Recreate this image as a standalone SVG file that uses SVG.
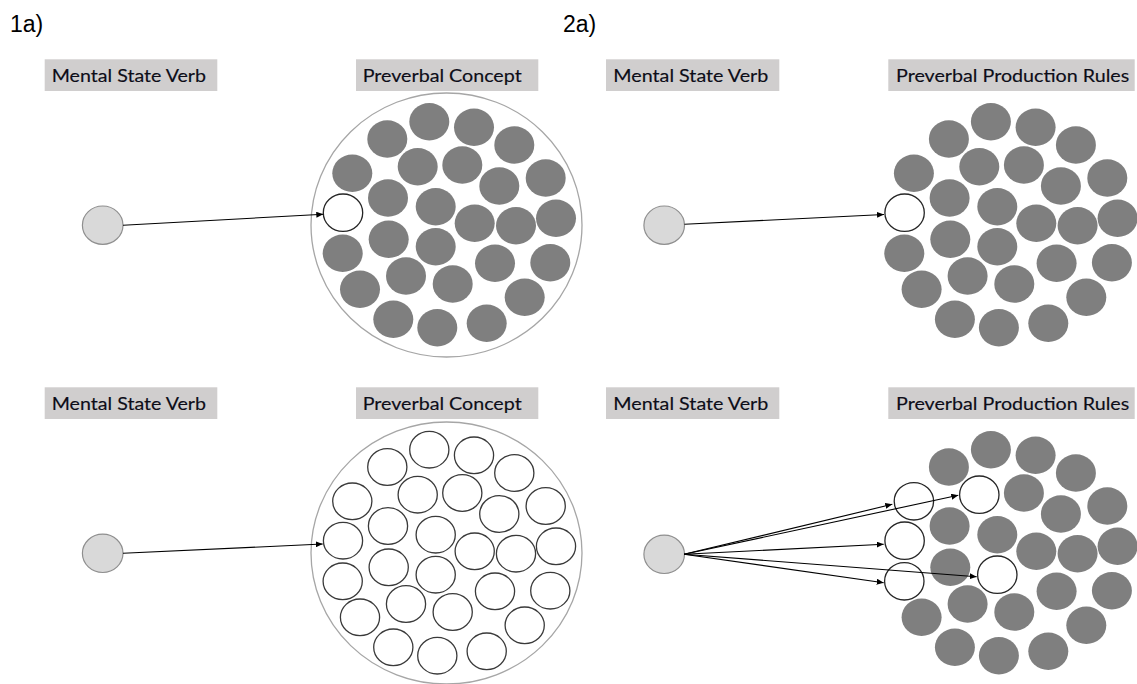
<svg xmlns="http://www.w3.org/2000/svg" xmlns:xlink="http://www.w3.org/1999/xlink" width="1137" height="684" viewBox="0 0 1137 684">
  <style>
    .panel-tag { font-family: "Liberation Sans", Arial, sans-serif; font-size: 23px; fill: #000; }
    .lbl-box { fill: #d0cece; }
    .lbl { font-family: Lato, "Open Sans", sans-serif; font-size: 17.5px; fill: #0d0d18; stroke: #0d0d18; stroke-width: 0.15; }
    .src { fill: #d9d9d9; stroke: #8f8f8f; stroke-width: 1.2; }
    .hull { fill: none; stroke: #a6a6a6; stroke-width: 1.3; }
    .off { fill: #7f7f7f; }
    .on { fill: #fff; stroke: #262626; stroke-width: 1.3; }
    .open { fill: #fff; stroke: #3a3a3a; stroke-width: 1.3; }
    .edge { stroke: #000; stroke-width: 1.1; fill: none; marker-end: url(#tip); }
  </style>
  <defs>
    <marker id="tip" markerUnits="userSpaceOnUse" markerWidth="8" markerHeight="6" refX="7" refY="3" orient="auto">
      <path d="M0,0 L7,3 L0,6 Z" fill="#000"/>
    </marker>
  </defs>

  <rect width="1137" height="684" fill="#fff"/>

  <text class="panel-tag" x="10" y="32">1a)</text>
  <text class="panel-tag" x="563" y="32">2a)</text>

  <!-- ===== Row 1, left: concept cluster ===== -->
  <g id="lbl-msv-1">
    <rect class="lbl-box" x="44.7" y="59.3" width="172.6" height="31.7"/>
    <text class="lbl" x="51.7" y="82.3" textLength="154.3" lengthAdjust="spacingAndGlyphs">Mental State Verb</text>
  </g>
  <g id="lbl-pc-1">
    <rect class="lbl-box" x="356" y="59.3" width="182.3" height="31.7"/>
    <text class="lbl" x="362.7" y="82.3" textLength="159" lengthAdjust="spacingAndGlyphs">Preverbal Concept</text>
  </g>
  <g id="verb-1"><ellipse class="src" cx="102.7" cy="225.2" rx="20.3" ry="19.2"/></g>
  <g id="concept-1">
    <ellipse class="hull" cx="446.5" cy="225" rx="135.5" ry="132"/>
    <g class="off">
      <ellipse cx="429.3" cy="121.7" rx="20" ry="18.7"/>
      <ellipse cx="474" cy="127.3" rx="20" ry="18.7"/>
      <ellipse cx="514.3" cy="145" rx="20" ry="18.7"/>
      <ellipse cx="387.3" cy="139" rx="20" ry="18.7"/>
      <ellipse cx="417.7" cy="166.7" rx="20" ry="18.7"/>
      <ellipse cx="462.3" cy="165" rx="20" ry="18.7"/>
      <ellipse cx="352.3" cy="173.3" rx="20" ry="18.7"/>
      <ellipse cx="499.3" cy="186" rx="20" ry="18.7"/>
      <ellipse cx="545.7" cy="178" rx="20" ry="18.7"/>
      <ellipse cx="388" cy="198" rx="20" ry="18.7"/>
      <ellipse cx="435.7" cy="206.7" rx="20" ry="18.7"/>
      <ellipse cx="474.7" cy="223.3" rx="20" ry="18.7"/>
      <ellipse cx="516" cy="225.7" rx="20" ry="18.7"/>
      <ellipse cx="556" cy="218.3" rx="20" ry="18.7"/>
      <ellipse cx="388.7" cy="239.3" rx="20" ry="18.7"/>
      <ellipse cx="435.7" cy="246.7" rx="20" ry="18.7"/>
      <ellipse cx="342.7" cy="253.3" rx="20" ry="18.7"/>
      <ellipse cx="495" cy="263.3" rx="20" ry="18.7"/>
      <ellipse cx="550.3" cy="262.7" rx="20" ry="18.7"/>
      <ellipse cx="406" cy="276" rx="20" ry="18.7"/>
      <ellipse cx="452.7" cy="284" rx="20" ry="18.7"/>
      <ellipse cx="360" cy="289.3" rx="20" ry="18.7"/>
      <ellipse cx="524.7" cy="297.3" rx="20" ry="18.7"/>
      <ellipse cx="393.3" cy="319.3" rx="20" ry="18.7"/>
      <ellipse cx="437.3" cy="327.7" rx="20" ry="18.7"/>
      <ellipse cx="486.7" cy="323.3" rx="20" ry="18.7"/>
    </g>
    <ellipse id="concept-1-active" class="on" cx="343" cy="212.7" rx="19.7" ry="18.7"/>
  </g>

  <!-- ===== Row 1, right: production rules ===== -->
  <g id="lbl-msv-2">
    <rect class="lbl-box" x="606" y="59.3" width="173.3" height="31.7"/>
    <text class="lbl" x="613.3" y="82.3" textLength="155" lengthAdjust="spacingAndGlyphs">Mental State Verb</text>
  </g>
  <g id="lbl-ppr-2">
    <rect class="lbl-box" x="888.3" y="59.3" width="246.4" height="31.7"/>
    <text class="lbl" x="896" y="82.3" textLength="233.3" lengthAdjust="spacingAndGlyphs">Preverbal Production Rules</text>
  </g>
  <g id="verb-2"><ellipse class="src" cx="664.2" cy="225.2" rx="20.3" ry="19.2"/></g>
  <g id="rules-2" transform="translate(561.6,0)">
    <g class="off">
      <ellipse cx="429.3" cy="121.7" rx="20" ry="18.7"/>
      <ellipse cx="474" cy="127.3" rx="20" ry="18.7"/>
      <ellipse cx="514.3" cy="145" rx="20" ry="18.7"/>
      <ellipse cx="387.3" cy="139" rx="20" ry="18.7"/>
      <ellipse cx="417.7" cy="166.7" rx="20" ry="18.7"/>
      <ellipse cx="462.3" cy="165" rx="20" ry="18.7"/>
      <ellipse cx="352.3" cy="173.3" rx="20" ry="18.7"/>
      <ellipse cx="499.3" cy="186" rx="20" ry="18.7"/>
      <ellipse cx="545.7" cy="178" rx="20" ry="18.7"/>
      <ellipse cx="388" cy="198" rx="20" ry="18.7"/>
      <ellipse cx="435.7" cy="206.7" rx="20" ry="18.7"/>
      <ellipse cx="474.7" cy="223.3" rx="20" ry="18.7"/>
      <ellipse cx="516" cy="225.7" rx="20" ry="18.7"/>
      <ellipse cx="556" cy="218.3" rx="20" ry="18.7"/>
      <ellipse cx="388.7" cy="239.3" rx="20" ry="18.7"/>
      <ellipse cx="435.7" cy="246.7" rx="20" ry="18.7"/>
      <ellipse cx="342.7" cy="253.3" rx="20" ry="18.7"/>
      <ellipse cx="495" cy="263.3" rx="20" ry="18.7"/>
      <ellipse cx="550.3" cy="262.7" rx="20" ry="18.7"/>
      <ellipse cx="406" cy="276" rx="20" ry="18.7"/>
      <ellipse cx="452.7" cy="284" rx="20" ry="18.7"/>
      <ellipse cx="360" cy="289.3" rx="20" ry="18.7"/>
      <ellipse cx="524.7" cy="297.3" rx="20" ry="18.7"/>
      <ellipse cx="393.3" cy="319.3" rx="20" ry="18.7"/>
      <ellipse cx="437.3" cy="327.7" rx="20" ry="18.7"/>
      <ellipse cx="486.7" cy="323.3" rx="20" ry="18.7"/>
    </g>
    <ellipse id="rules-2-active" class="on" cx="343" cy="212.7" rx="19.7" ry="18.7"/>
  </g>

  <!-- ===== Row 2, left: concept cluster, every unit open ===== -->
  <g id="lbl-msv-3">
    <rect class="lbl-box" x="44.7" y="387.3" width="172.6" height="31.7"/>
    <text class="lbl" x="51.7" y="410.3" textLength="154.3" lengthAdjust="spacingAndGlyphs">Mental State Verb</text>
  </g>
  <g id="lbl-pc-3">
    <rect class="lbl-box" x="356" y="387.3" width="182.3" height="31.7"/>
    <text class="lbl" x="362.7" y="410.3" textLength="159" lengthAdjust="spacingAndGlyphs">Preverbal Concept</text>
  </g>
  <g id="verb-3"><ellipse class="src" cx="102.7" cy="553.3" rx="20.3" ry="19.2"/></g>
  <g id="concept-3" transform="translate(0,328)">
    <ellipse class="hull" cx="446.5" cy="225" rx="135.5" ry="131"/>
    <g class="open">
      <ellipse cx="429.3" cy="121.7" rx="19.6" ry="18.3"/>
      <ellipse cx="474" cy="127.3" rx="19.6" ry="18.3"/>
      <ellipse cx="514.3" cy="145" rx="19.6" ry="18.3"/>
      <ellipse cx="387.3" cy="139" rx="19.6" ry="18.3"/>
      <ellipse cx="417.7" cy="166.7" rx="19.6" ry="18.3"/>
      <ellipse cx="462.3" cy="165" rx="19.6" ry="18.3"/>
      <ellipse cx="352.3" cy="173.3" rx="19.6" ry="18.3"/>
      <ellipse cx="499.3" cy="186" rx="19.6" ry="18.3"/>
      <ellipse cx="545.7" cy="178" rx="19.6" ry="18.3"/>
      <ellipse cx="388" cy="198" rx="19.6" ry="18.3"/>
      <ellipse cx="435.7" cy="206.7" rx="19.6" ry="18.3"/>
      <ellipse cx="343" cy="212.7" rx="19.6" ry="18.3"/>
      <ellipse cx="474.7" cy="223.3" rx="19.6" ry="18.3"/>
      <ellipse cx="516" cy="225.7" rx="19.6" ry="18.3"/>
      <ellipse cx="556" cy="218.3" rx="19.6" ry="18.3"/>
      <ellipse cx="388.7" cy="239.3" rx="19.6" ry="18.3"/>
      <ellipse cx="435.7" cy="246.7" rx="19.6" ry="18.3"/>
      <ellipse cx="342.7" cy="253.3" rx="19.6" ry="18.3"/>
      <ellipse cx="495" cy="263.3" rx="19.6" ry="18.3"/>
      <ellipse cx="550.3" cy="262.7" rx="19.6" ry="18.3"/>
      <ellipse cx="406" cy="276" rx="19.6" ry="18.3"/>
      <ellipse cx="452.7" cy="284" rx="19.6" ry="18.3"/>
      <ellipse cx="360" cy="289.3" rx="19.6" ry="18.3"/>
      <ellipse cx="524.7" cy="297.3" rx="19.6" ry="18.3"/>
      <ellipse cx="393.3" cy="319.3" rx="19.6" ry="18.3"/>
      <ellipse cx="437.3" cy="327.7" rx="19.6" ry="18.3"/>
      <ellipse cx="486.7" cy="323.3" rx="19.6" ry="18.3"/>
    </g>
  </g>

  <!-- ===== Row 2, right: production rules, several units active ===== -->
  <g id="lbl-msv-4">
    <rect class="lbl-box" x="606" y="387.3" width="173.3" height="31.7"/>
    <text class="lbl" x="613.3" y="410.3" textLength="155" lengthAdjust="spacingAndGlyphs">Mental State Verb</text>
  </g>
  <g id="lbl-ppr-4">
    <rect class="lbl-box" x="888.3" y="387.3" width="246.4" height="31.7"/>
    <text class="lbl" x="896" y="410.3" textLength="233.3" lengthAdjust="spacingAndGlyphs">Preverbal Production Rules</text>
  </g>
  <g id="verb-4"><ellipse class="src" cx="664.2" cy="554.3" rx="20.3" ry="19.2"/></g>
  <g id="rules-4" transform="translate(561.6,328)">
    <g class="off">
      <ellipse cx="429.3" cy="121.7" rx="20" ry="18.7"/>
      <ellipse cx="474" cy="127.3" rx="20" ry="18.7"/>
      <ellipse cx="514.3" cy="145" rx="20" ry="18.7"/>
      <ellipse cx="387.3" cy="139" rx="20" ry="18.7"/>
      <ellipse cx="462.3" cy="165" rx="20" ry="18.7"/>
      <ellipse cx="499.3" cy="186" rx="20" ry="18.7"/>
      <ellipse cx="545.7" cy="178" rx="20" ry="18.7"/>
      <ellipse cx="388" cy="198" rx="20" ry="18.7"/>
      <ellipse cx="435.7" cy="206.7" rx="20" ry="18.7"/>
      <ellipse cx="474.7" cy="223.3" rx="20" ry="18.7"/>
      <ellipse cx="516" cy="225.7" rx="20" ry="18.7"/>
      <ellipse cx="556" cy="218.3" rx="20" ry="18.7"/>
      <ellipse cx="388.7" cy="239.3" rx="20" ry="18.7"/>
      <ellipse cx="495" cy="263.3" rx="20" ry="18.7"/>
      <ellipse cx="550.3" cy="262.7" rx="20" ry="18.7"/>
      <ellipse cx="406" cy="276" rx="20" ry="18.7"/>
      <ellipse cx="452.7" cy="284" rx="20" ry="18.7"/>
      <ellipse cx="360" cy="289.3" rx="20" ry="18.7"/>
      <ellipse cx="524.7" cy="297.3" rx="20" ry="18.7"/>
      <ellipse cx="393.3" cy="319.3" rx="20" ry="18.7"/>
      <ellipse cx="437.3" cy="327.7" rx="20" ry="18.7"/>
      <ellipse cx="486.7" cy="323.3" rx="20" ry="18.7"/>
    </g>
    <g class="on">
      <ellipse id="rules-4-a" cx="417.7" cy="166.7" rx="19.7" ry="18.7"/>
      <ellipse id="rules-4-b" cx="352.3" cy="173.3" rx="19.7" ry="18.7"/>
      <ellipse id="rules-4-c" cx="343" cy="212.7" rx="19.7" ry="18.7"/>
      <ellipse id="rules-4-d" cx="435.7" cy="246.7" rx="19.7" ry="18.7"/>
      <ellipse id="rules-4-e" cx="342.7" cy="253.3" rx="19.7" ry="18.7"/>
    </g>
  </g>

  <!-- connectors -->
  <g id="connectors">
    <line class="edge" x1="123" y1="225.2" x2="323.3" y2="214.3"/>
    <line class="edge" x1="684.5" y1="224.3" x2="884" y2="214.5"/>
    <line class="edge" x1="123" y1="553.3" x2="322.7" y2="544"/>
    <line class="edge" x1="684" y1="554.3" x2="892.3" y2="504.3"/>
    <line class="edge" x1="684" y1="554.3" x2="958.3" y2="495.3"/>
    <line class="edge" x1="684" y1="554.3" x2="883.7" y2="544.3"/>
    <line class="edge" x1="684" y1="554.3" x2="883.7" y2="582.7"/>
    <line class="edge" x1="684" y1="554.3" x2="976.7" y2="576.7"/>
  </g>
</svg>
